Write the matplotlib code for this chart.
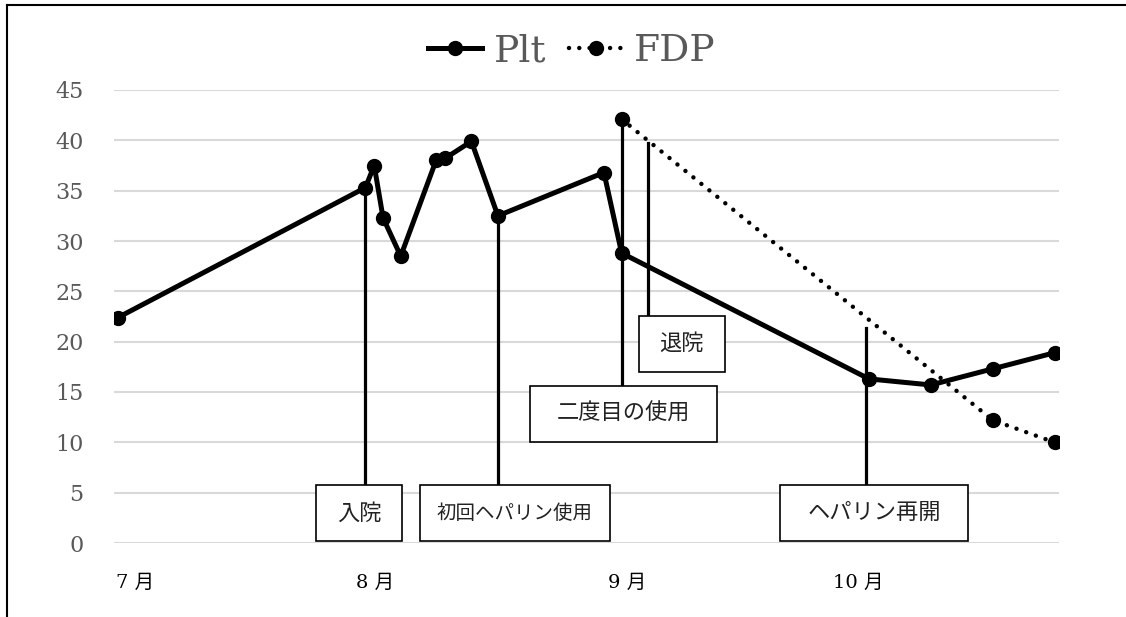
import matplotlib
matplotlib.use('Agg')
from matplotlib import pyplot as plt
from matplotlib.lines import Line2D
from matplotlib.patches import Rectangle

# days counted from the first measurement
plt_days = [0, 28, 29, 30, 32, 36, 37, 40, 43, 55, 57, 85, 92, 99, 106]
plt_values = [22.4, 35.3, 37.5, 32.3, 28.5, 38.0, 38.2, 39.9, 32.5, 36.8,
              28.8, 16.3, 15.7, 17.3, 18.9]
fdp_days = [57, 99, 106]
fdp_values = [42.1, 12.2, 10.0]

month_days = [1.9, 29.1, 57.6, 83.8]
month_labels = ['7 月', '8 月', '9 月', '10 月']

# callouts: label, day of leader line, top of leader line
event_labels = ['入院', '初回ヘパリン使用', '二度目の使用', '退院', 'ヘパリン再開']
event_days = [28, 43, 57, 60, 84.7]
event_tops = [35.3, 32.5, 42.1, 39.7, 21.4]

# box layout (centre day, centre value, width in px, font size)
box_x = [27.3, 44.9, 57.2, 63.8, 85.6]
box_y = [2.95, 2.95, 12.85, 19.8, 3.0]
box_w = [86, 190, 187, 86, 188]
box_fs = [16, 14, 16, 16, 16]
box_h = 56

SERIF = ['DejaVu Serif', 'Noto Sans CJK JP']
plt.rcParams['font.family'] = SERIF

W, H = 1126, 617
fig = plt.figure(figsize=(W / 100, H / 100), dpi=100)
ax = fig.add_axes([114 / W, (H - 543) / H, (1059 - 114) / W, (543 - 90) / H])
ax.set_xlim(-0.45, 106.5)
ax.set_ylim(0, 45)
px_day = (1059 - 114) / (106.5 + 0.45)
px_val = (543 - 90) / 45

ax.set_yticks(range(0, 50, 5))
ax.grid(axis='y', color='#d9d9d9', linewidth=1.5)
ax.set_axisbelow(True)
for s in ax.spines.values():
    s.set_visible(False)
ax.tick_params(axis='y', length=0, pad=22, labelsize=16, labelcolor='#595959')
ax.set_xticks(month_days)
ax.set_xticklabels(month_labels)
ax.tick_params(axis='x', length=0, pad=22, labelsize=14, labelcolor='black')

# leader lines and boxes
for lab, d, top, bx, by, bw, fs in zip(event_labels, event_days, event_tops,
                                       box_x, box_y, box_w, box_fs):
    wd = bw / px_day
    hv = box_h / px_val
    ax.plot([d, d], [by + hv / 2, top], color='black', lw=2.3, zorder=3)
    ax.add_patch(Rectangle((bx - wd / 2, by - hv / 2), wd, hv,
                           facecolor='white', edgecolor='black', lw=1.2,
                           zorder=4))
    ax.text(bx, by, lab, ha='center', va='center', fontsize=fs,
            family=['Noto Sans CJK JP'], color='#222222', zorder=5)

ax.plot(fdp_days, fdp_values, color='black', lw=3.2,
        linestyle=(0, (0.01, 2.3)), dash_capstyle='round',
        marker='o', markersize=10, zorder=6, label='FDP')
ax.plot(plt_days, plt_values, color='black', lw=3.6, marker='o',
        markersize=10, zorder=7, label='Plt')

h, l = ax.get_legend_handles_labels()
fig.legend(h[::-1], l[::-1], loc='center', bbox_to_anchor=(0.508, 0.917),
           ncol=2, frameon=False, fontsize=27, labelcolor='#595959',
           handlelength=1.45, handletextpad=0.3, columnspacing=0.6)

# outer frame (left and top only, picture is cropped)
fig.add_artist(Line2D([7 / W, 7 / W], [0, 1 - 5 / H], color='black', lw=1.5))
fig.add_artist(Line2D([7 / W, 1], [1 - 5 / H, 1 - 5 / H], color='black', lw=1.5))

fig.savefig('out.png', dpi=100)
